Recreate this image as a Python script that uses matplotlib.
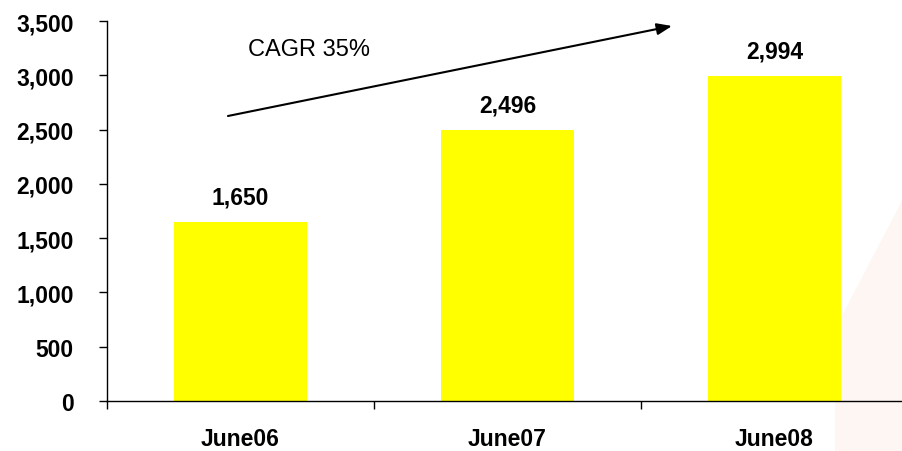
import matplotlib
matplotlib.use("Agg")
import matplotlib.pyplot as plt
import numpy as np
from matplotlib.ticker import FuncFormatter
from matplotlib.patches import Polygon

categories = ["June06", "June07", "June08"]
values = [1650, 2496, 2994]
yticks = [0, 500, 1000, 1500, 2000, 2500, 3000, 3500]
cagr_label = "CAGR 35%"

plt.rcParams['font.family'] = ['Liberation Sans', 'DejaVu Sans']

W, H = 903, 452
fig = plt.figure(figsize=(W / 100, H / 100), dpi=100)

# very faint watermark in lower right corner
wm = Polygon([(835 / W, 0), (835 / W, 1 - 330 / H), (1, 1 - 200 / H), (1, 0)],
             closed=True, transform=fig.transFigure, facecolor="#FEF6F2",
             edgecolor="none", zorder=-5)
fig.patches.append(wm)

ax = fig.add_axes([107 / W, 1 - 402 / H, 801 / W, 380 / H])
ax.set_facecolor("none")
ax.set_zorder(1)

x = np.arange(len(categories))
ax.bar(x, values, width=0.5, color="#FFFF00", zorder=2)

for xi, v in zip(x, values):
    ax.annotate(f"{v:,}", (xi, v), xytext=(0, 13.5), textcoords="offset points",
                ha="center", va="baseline", fontsize=16.5, fontweight="bold")

ax.set_xlim(-0.5, len(categories) - 0.5)
ax.set_ylim(0, 3500)
ax.set_yticks(yticks)
ax.yaxis.set_major_formatter(FuncFormatter(lambda v, p: f"{int(v):,}"))
ax.tick_params(axis="y", direction="out", length=6, width=1, labelsize=16.5, pad=18)
for lab in ax.get_yticklabels():
    lab.set_fontweight("bold")

ax.set_xticks(x)
ax.set_xticklabels(categories, fontsize=16.5, fontweight="bold")
ax.tick_params(axis="x", which="major", length=0, pad=18.5)
ax.set_xticks(np.arange(len(categories)) - 0.5, minor=True)
ax.tick_params(axis="x", which="minor", direction="out", length=6, width=1)

ax.spines["top"].set_visible(False)
ax.spines["right"].set_visible(False)
ax.spines["left"].set_linewidth(1)
ax.spines["bottom"].set_linewidth(1)

ax.annotate("", xy=(1.616, 3454), xytext=(-0.047, 2625),
            arrowprops=dict(arrowstyle="-|>,head_length=0.9,head_width=0.35",
                            color="black", lw=1.5, shrinkA=0, shrinkB=0))
ax.text(0.028, 3242, cagr_label, fontsize=17, ha="left", va="center")

fig.savefig("out.png", dpi=100)
